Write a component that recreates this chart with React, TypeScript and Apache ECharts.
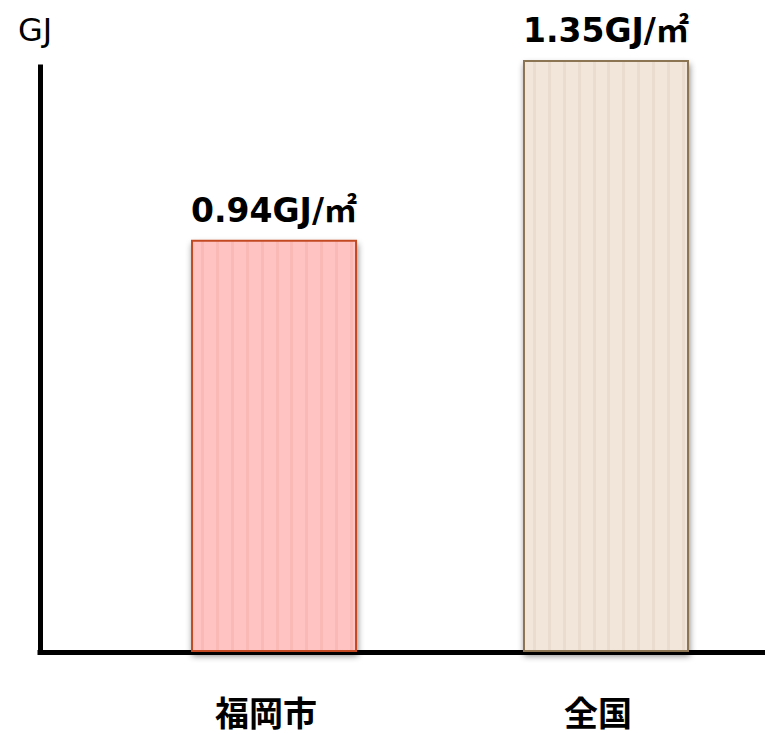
import React, { useEffect, useRef } from "react";
import * as echarts from "echarts";

const categories = ["福岡市", "全国"];
const values = [0.94, 1.35];
const unit = "GJ/㎡";
const yAxisName = "GJ";

function stripes(base: string, dark: string) {
  const stops: any[] = [];
  const n = 11;
  for (let i = 0; i < n; i++) {
    const a = i / n;
    const b = a + 0.6 / n;
    const c = a + 0.8 / n;
    stops.push({ offset: a, color: base });
    stops.push({ offset: b, color: base });
    stops.push({ offset: b, color: dark });
    stops.push({ offset: c, color: dark });
    stops.push({ offset: c, color: base });
    stops.push({ offset: (i + 1) / n, color: base });
  }
  return { type: "linear", x: 0, y: 0, x2: 1, y2: 0, colorStops: stops };
}

const barStyles = [
  { fill: stripes("#FFC3C1", "#FBB9B6"), border: "#C24A22" },
  { fill: stripes("#F2E6DA", "#EADDCF"), border: "#8C7553" },
];

export default function App() {
  const ref = useRef<HTMLDivElement>(null);
  useEffect(() => {
    if (!ref.current) return;
    const chart = echarts.init(ref.current, undefined, { renderer: "svg" });
    const data = values.map((v, i) => ({
      value: [i + 1, v],
      itemStyle: {
        color: barStyles[i].fill,
        borderColor: barStyles[i].border,
        borderWidth: 2,
        shadowBlur: 6,
        shadowOffsetY: 4,
        shadowOffsetX: 1,
        shadowColor: "rgba(0,0,0,0.45)",
      },
    }));
    chart.setOption({
      animation: false,
      grid: { left: 40, right: 0, top: 67, bottom: 82, containLabel: false },
      xAxis: {
        type: "value",
        min: 0.295,
        max: 2.479,
        axisLine: { show: true, onZero: false, lineStyle: { color: "#000", width: 5, cap: "square" } },
        axisTick: { show: false },
        splitLine: { show: false },
        axisLabel: {
          customValues: [1, 2],
          formatter: (v: number) => categories[Math.round(v) - 1] ?? "",
          margin: 42,
          color: "#000",
          fontSize: 34,
          lineHeight: 34,
          fontWeight: "bold",
          fontFamily: "'Noto Sans CJK JP', sans-serif",
          padding: [0, 16, 0, 0],
        },
      },
      yAxis: {
        type: "value",
        min: 0,
        max: 1.334,
        name: yAxisName,
        nameLocation: "end",
        nameGap: 21,
        nameTextStyle: {
          color: "#000",
          fontSize: 32,
          fontFamily: "'DejaVu Sans', sans-serif",
          align: "center",
          padding: [0, 10, 0, 0],
        },
        axisLine: { show: true, lineStyle: { color: "#000", width: 5, cap: "square" } },
        axisTick: { show: false },
        axisLabel: { show: false },
        splitLine: { show: false },
      },
      series: [
        {
          type: "bar",
          data,
          barWidth: 166,
          clip: false,
          label: {
            show: true,
            position: "top",
            distance: 13,
            formatter: (p: any) => p.value[1].toFixed(2) + unit,
            color: "#000",
            fontSize: 33,
            fontWeight: "bold",
            fontFamily: "'DejaVu Sans', 'Noto Sans CJK JP', sans-serif",
          },
        },
      ],
    });
    return () => chart.dispose();
  }, []);
  return <div ref={ref} style={{ width: 765, height: 734, position: "absolute", left: 0, top: 0 }} />;
}
